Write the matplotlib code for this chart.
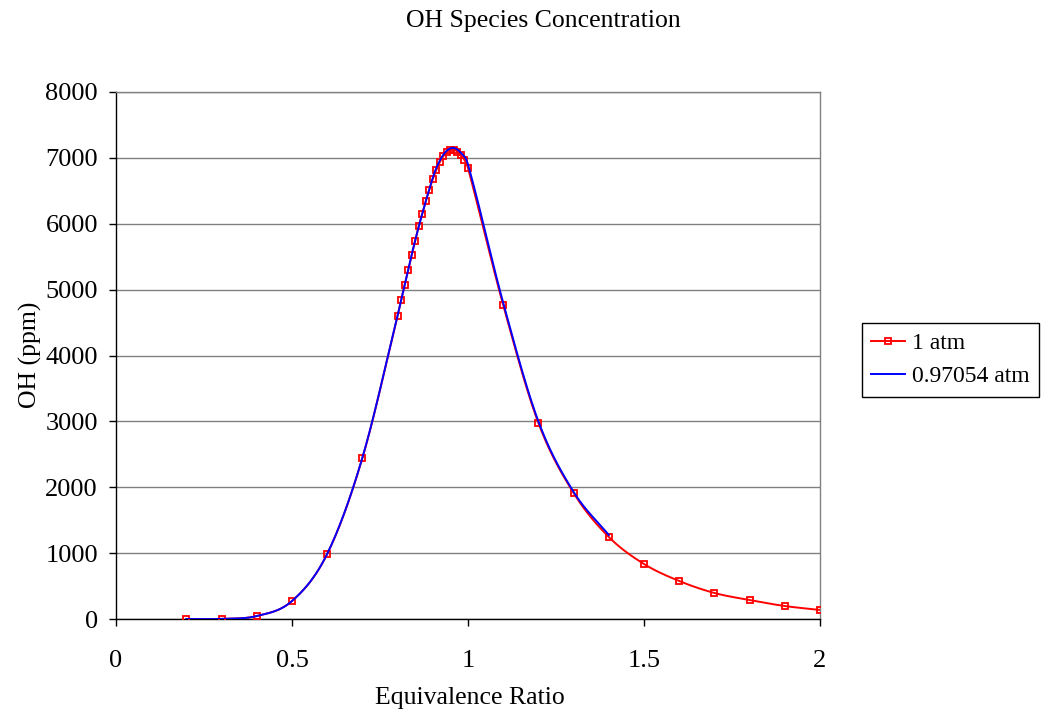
import numpy as np
import matplotlib
matplotlib.use("Agg")
import matplotlib.pyplot as plt
from matplotlib.lines import Line2D

# ---------------- data ----------------
phi_1atm = [0.2, 0.3, 0.4, 0.5, 0.6, 0.7, 0.8, 0.81, 0.82, 0.83, 0.84, 0.85,
            0.86, 0.87, 0.88, 0.89, 0.90, 0.91, 0.92, 0.93, 0.94, 0.95, 0.96,
            0.97, 0.98, 0.99, 1.0, 1.1, 1.2, 1.3, 1.4, 1.5, 1.6, 1.7, 1.8,
            1.9, 2.0]
oh_1atm = [0, 2, 45, 273, 987, 2444, 4600, 4842, 5070, 5298, 5525, 5738,
           5966, 6148, 6345, 6512, 6679, 6816, 6937, 7028, 7089, 7120, 7125,
           7095, 7043, 6968, 6846, 4766, 2975, 1913, 1245, 835, 577, 395, 288,
           197, 137]

phi_097 = [0.2, 0.3, 0.4, 0.5, 0.6, 0.7, 0.8, 0.85, 0.9, 0.92, 0.94, 0.96,
           0.98, 1.0, 1.1, 1.2, 1.3, 1.4]
oh_097 = [0, 2, 45, 273, 990, 2450, 4610, 5750, 6700, 6960, 7110, 7150,
          7075, 6900, 4800, 3000, 1930, 1275]

label_1atm = "1 atm"
label_097 = "0.97054 atm"
title = "OH Species Concentration"
xlabel = "Equivalence Ratio"
ylabel = "OH (ppm)"
xticks = [0, 0.5, 1, 1.5, 2]
xticklabels = ["0", "0.5", "1", "1.5", "2"]
yticks = [0, 1000, 2000, 3000, 4000, 5000, 6000, 7000, 8000]


def smooth(xs, ys, n=25):
    """Smoothed line through the points (cubic Hermite, Excel-like look)."""
    x = np.asarray(xs, float)
    y = np.asarray(ys, float)
    m = np.empty_like(y)
    m[1:-1] = (y[2:] - y[:-2]) / (x[2:] - x[:-2])
    m[0] = (y[1] - y[0]) / (x[1] - x[0])
    m[-1] = (y[-1] - y[-2]) / (x[-1] - x[-2])
    ox, oy = [], []
    for i in range(len(x) - 1):
        h = x[i + 1] - x[i]
        t = np.linspace(0, 1, n, endpoint=False)
        h00 = 2 * t ** 3 - 3 * t ** 2 + 1
        h10 = t ** 3 - 2 * t ** 2 + t
        h01 = -2 * t ** 3 + 3 * t ** 2
        h11 = t ** 3 - t ** 2
        ox.append(x[i] + t * h)
        oy.append(h00 * y[i] + h10 * h * m[i] + h01 * y[i + 1] + h11 * h * m[i + 1])
    ox.append([x[-1]])
    oy.append([y[-1]])
    return np.concatenate(ox), np.concatenate(oy)


plt.rcParams['font.family'] = ['Liberation Serif', 'DejaVu Serif']

fig = plt.figure(figsize=(10.46, 7.15), dpi=100)
ax = fig.add_axes([116 / 1046, 1 - 619 / 715, (820 - 116) / 1046, (619 - 92) / 715])

red = "#ff0000"
blue = "#0000ff"

sx, sy = smooth(phi_1atm, oh_1atm)
ax.plot(sx, sy, color=red, lw=1.4, zorder=3)
ax.plot(phi_1atm, oh_1atm, ls="none", marker="s", markersize=5,
        markerfacecolor="none", markeredgecolor=red, markeredgewidth=1.3, zorder=4)

bx, by = smooth(phi_097, oh_097)
ax.plot(bx, by, color=blue, lw=1.4, zorder=5)

ax.set_xlim(0, 2)
ax.set_ylim(0, 8000)
ax.set_xticks(xticks)
ax.set_xticklabels(xticklabels)
ax.set_yticks(yticks)
ax.yaxis.grid(True, color="#808080", lw=1.0)
ax.set_axisbelow(True)

for s in ["top", "right"]:
    ax.spines[s].set_color("#808080")
    ax.spines[s].set_linewidth(1.0)
for s in ["left", "bottom"]:
    ax.spines[s].set_color("black")
    ax.spines[s].set_linewidth(1.0)

ax.tick_params(axis="x", direction="out", length=5, width=1, pad=17, labelsize=19)
ax.tick_params(axis="y", direction="out", length=5, width=1, pad=8, labelsize=19)

fig.text(543 / 1046, 1 - 21 / 715, title, ha="center", va="center", fontsize=18.5)
fig.text(470 / 1046, 1 - 698 / 715, xlabel, ha="center", va="center", fontsize=18.5)
fig.text(30 / 1046, 1 - 355 / 715, ylabel, ha="center", va="center", fontsize=18.5,
         rotation=90)

handles = [
    Line2D([], [], color=red, lw=1.4, marker="s", markersize=5,
           markerfacecolor="none", markeredgecolor=red, markeredgewidth=1.3),
    Line2D([], [], color=blue, lw=1.4),
]
leg = fig.legend(handles, [label_1atm, label_097], loc="center left",
                 bbox_to_anchor=(862 / 1046, 1 - 360 / 715), fontsize=17,
                 frameon=True, fancybox=False, framealpha=1, edgecolor="black",
                 handlelength=1.4, handletextpad=0.3, borderpad=0.4,
                 labelspacing=0.5, borderaxespad=0)
leg.get_frame().set_linewidth(1.0)

fig.savefig("out.png", dpi=100)
